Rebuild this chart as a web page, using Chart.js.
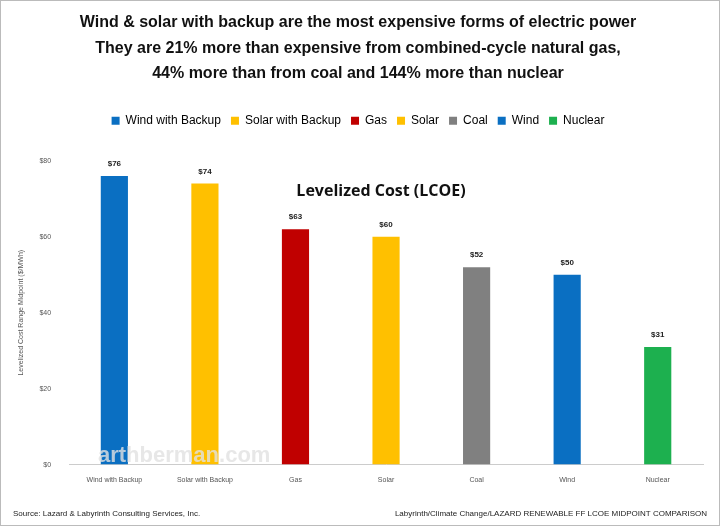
<!DOCTYPE html>
<html>
<head>
<meta charset="utf-8">
<script src="https://cdn.jsdelivr.net/npm/chart.js@4/dist/chart.umd.min.js"></script>
<style>
  html, body { margin: 0; padding: 0; background: #fff; }
  #wrap { width: 718px; height: 524px; border: 1px solid #bbb; }
</style>
</head>
<body>
<div id="wrap"><canvas id="chart" width="718" height="524"></canvas></div>
<script>
// Data
const categories = ["Wind with Backup", "Solar with Backup", "Gas", "Solar", "Coal", "Wind", "Nuclear"];
const lcoe = [76, 74, 62, 60, 52, 50, 31];
const valueLabels = ["$76", "$74", "$63", "$60", "$52", "$50", "$31"];
const barColors = ["#0a6fc2", "#ffc000", "#c00000", "#ffc000", "#808080", "#0a6fc2", "#1db04f"];
const titleLines = [
  "Wind & solar with backup are the most expensive forms of electric power",
  "They are 21% more than expensive from combined-cycle natural gas,",
  "44% more than from coal and 144% more than nuclear"
];

// push the plot down below the legend
const legendGap = {
  id: "legendGap",
  beforeInit(chart) {
    const fit = chart.legend.fit;
    chart.legend.fit = function () {
      fit.bind(chart.legend)();
      this.height += 24;
    };
  }
};

const extras = {
  id: "extras",
  afterDatasetsDraw(chart) {
    const ctx = chart.ctx;
    const meta = chart.getDatasetMeta(0);
    ctx.save();
    ctx.fillStyle = "#222";
    ctx.font = "bold 8px 'Liberation Sans', Arial";
    ctx.textAlign = "center";
    ctx.textBaseline = "bottom";
    meta.data.forEach((bar, i) => ctx.fillText(valueLabels[i], bar.x, bar.y - 8));

    ctx.font = "bold 16px 'Open Sans', Arial";
    ctx.fillStyle = "#111";
    ctx.textBaseline = "middle";
    ctx.fillText("Levelized Cost (LCOE)", 380, 190);

    ctx.font = "bold 22px 'Liberation Sans', Arial";
    ctx.textAlign = "left";
    ctx.fillStyle = "rgba(225,225,225,0.8)";
    ctx.fillText("arthberman.com", 97, 455);

    ctx.font = "8px 'Liberation Sans', Arial";
    ctx.fillStyle = "#222";
    ctx.textBaseline = "alphabetic";
    ctx.fillText("Source: Lazard & Labyrinth Consulting Services, Inc.", 12, 515);
    ctx.textAlign = "right";
    ctx.fillText("Labyrinth/Climate Change/LAZARD RENEWABLE FF LCOE MIDPOINT COMPARISON", 706, 515);
    ctx.restore();
  }
};

new Chart(document.getElementById("chart"), {
  type: "bar",
  data: {
    labels: categories,
    datasets: [{ data: lcoe, backgroundColor: barColors, barPercentage: 0.3, categoryPercentage: 1 }]
  },
  options: {
    responsive: false,
    animation: false,
    layout: { padding: { left: 12, right: 16, top: 4, bottom: 38 } },
    plugins: {
      title: {
        display: true,
        text: titleLines,
        color: "#111",
        font: { size: 16, weight: "bold", family: "'Liberation Sans', Arial", lineHeight: 1.6 },
        padding: { top: 5, bottom: 18 }
      },
      legend: {
        display: true,
        position: "top",
        labels: {
          boxWidth: 8, boxHeight: 8, padding: 10, color: "#333",
          font: { size: 12, family: "'Liberation Sans', Arial" },
          generateLabels: () => categories.map((c, i) => ({
            text: c, fillStyle: barColors[i], strokeStyle: barColors[i], lineWidth: 0, index: i
          }))
        }
      },
      tooltip: { enabled: false }
    },
    scales: {
      x: {
        grid: { display: false },
        border: { color: "#ccc" },
        ticks: { color: "#555", font: { size: 7 } }
      },
      y: {
        min: 0, max: 80,
        ticks: { stepSize: 20, color: "#555", font: { size: 7 }, padding: 10, callback: v => "$" + v },
        grid: { display: false },
        border: { display: false },
        title: { display: true, text: "Levelized Cost Range Midpoint ($/MWh)", color: "#555", font: { size: 7 } }
      }
    }
  },
  plugins: [legendGap, extras]
});
</script>
</body>
</html>
